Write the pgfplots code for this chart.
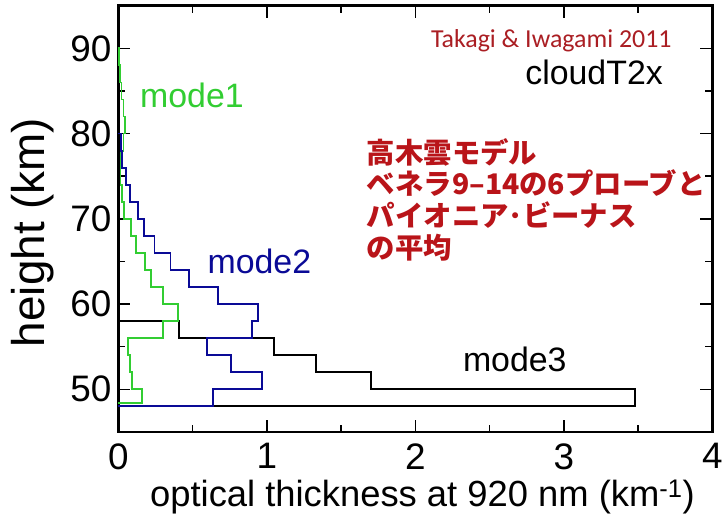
\documentclass[border=0pt]{standalone}
\usepackage{fontspec}
\setmainfont{Liberation Sans}
\newfontfamily\cjk{Noto Sans CJK JP}
\newfontfamily\calib{Carlito}
\usepackage{pgfplots}
\pgfplotsset{compat=1.18}
\usepackage{pgfplotstable}

\definecolor{modeone}{RGB}{50,205,50}
\definecolor{modetwo}{RGB}{10,10,150}
\definecolor{noteRed}{RGB}{185,20,25}
\definecolor{refRed}{RGB}{170,30,35}

% Layer profiles: optical thickness (tau) of each 2 km bin, keyed by the bin bottom z.
% Drawn with const plot mark right, so each row gives a vertical run at tau
% from its own z up to the next row's z.
\pgfplotstableread{
tau z
0 48
3.48 48
1.70 50
1.334 52
1.05 54
0.41 56
0 58
}\modethree

\pgfplotstableread{
tau z
0 48
0.64 48
0.968 50
0.758 52
0.60 54
0.898 56
0.943 58
0.674 60
0.478 62
0.351 64
0.244 66
0.175 68
0.13 70
0.08 72
0.05 74
0.025 76
0.02 78
0 80
}\modetwo

\pgfplotstableread{
tau z
0 48.4
0.16 48.4
0.09 50
0.08 52
0.064 54
0.30 56
0.40 58
0.30 60
0.218 62
0.178 64
0.12 66
0.083 68
0.04 70
0.025 72
0.015 74
0.02 76
0.035 78
0.045 80
0.035 82
0.022 84
0.012 86
0.005 88
0 90
}\modeone

\begin{document}
\begin{tikzpicture}
\begin{axis}[
  scale only axis,
  width=594bp, height=426.2bp,
  xmin=0, xmax=4, ymin=45, ymax=95,
  xtick={0,1,2,3,4}, ytick={50,60,70,80,90},
  minor xtick={0.5,1.5,2.5,3.5}, minor ytick={55,65,75,85},
  tick align=inside,
  major tick length=12bp, minor tick length=7bp,
  every tick/.style={black, line width=1.5bp},
  axis line style={black, line width=2.5bp},
  /pgf/number format/assume math mode=true,
  ticklabel style={font=\fontsize{37}{42}\selectfont, inner sep=0pt},
  yticklabel style={xshift=-6.6bp},
  xticklabel style={yshift=-11.4bp},
  xlabel={optical thickness at 920 nm (km\textsuperscript{-1})},
  ylabel={height (km)},
  xlabel style={font=\fontsize{36.5}{42}\selectfont, inner sep=0pt,
    at={(axis description cs:0.512,-0.176)}, anchor=base},
  ylabel style={font=\fontsize{46}{52}\selectfont, inner sep=0pt,
    at={(axis description cs:-0.145,0.468)}, anchor=center},
  clip=false,
]
\addplot[const plot mark right, black, line width=1.8bp] table[x=tau, y=z] {\modethree};
\addplot[const plot mark right, modeone, line width=1.8bp] table[x=tau, y=z] {\modeone};
\addplot[const plot mark right, modetwo, line width=1.8bp] table[x=tau, y=z] {\modetwo};

\node[anchor=base west, inner sep=0pt, text=modeone, font=\fontsize{34}{40}\selectfont]
  at (axis cs:0.146,83.0) {mode1};
\node[anchor=base west, inner sep=0pt, text=modetwo, font=\fontsize{34}{40}\selectfont]
  at (axis cs:0.60,63.6) {mode2};
\node[anchor=base west, inner sep=0pt, text=black, font=\fontsize{34}{40}\selectfont]
  at (axis cs:2.32,52.06) {mode3};

\node[anchor=base east, inner sep=0pt, text=refRed, font=\calib\fontsize{26}{30}\selectfont]
  at (axis cs:3.727,90.1) {Takagi \& Iwagami 2011};
\node[anchor=base east, inner sep=0pt, text=black, font=\fontsize{34}{40}\selectfont]
  at (axis cs:3.668,85.7) {cloudT2x};

\node[anchor=base west, inner sep=0pt, text=noteRed, font=\cjk\bfseries\fontsize{28.5}{32}\selectfont]
  at (axis cs:1.673,76.51) {高木雲モデル};
\node[anchor=base west, inner sep=0pt, text=noteRed, font=\cjk\bfseries\fontsize{28.5}{32}\selectfont]
  at (axis cs:1.673,72.80) {ベネラ9–14の6プローブと};
\node[anchor=base west, inner sep=0pt, text=noteRed, font=\cjk\bfseries\fontsize{28.5}{32}\selectfont]
  at (axis cs:1.673,69.08) {パイオニア･ビーナス};
\node[anchor=base west, inner sep=0pt, text=noteRed, font=\cjk\bfseries\fontsize{28.5}{32}\selectfont]
  at (axis cs:1.673,65.37) {の平均};
\end{axis}
\pgfresetboundingbox
\path[use as bounding box] (-118.3bp,-91.1bp) rectangle (607.7bp,431.9bp);
\end{tikzpicture}
\end{document}
